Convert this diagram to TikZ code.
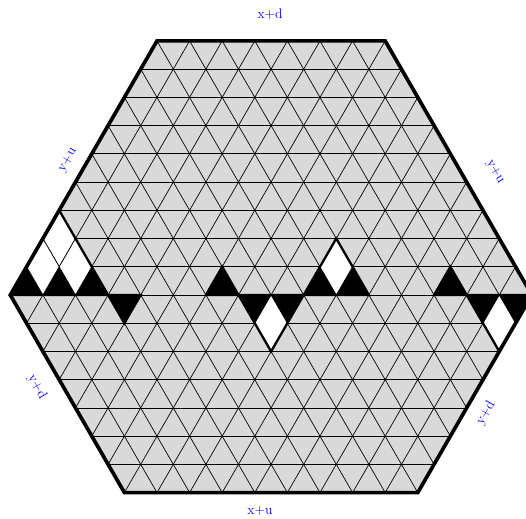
\documentclass[tikz,border=0pt]{standalone}
\definecolor{latgray}{RGB}{217,217,217}
\definecolor{lblblue}{RGB}{0,0,255}
\tikzset{
  hexborder/.style={draw=black, line width=3.2pt, line join=miter},
  latline/.style={draw=black, line width=0.6pt},
  blk/.style={fill=black, draw=black, line width=0.6pt, line join=miter},
  wht/.style={fill=white, draw=black, line width=0.6pt, line join=miter},
  outl/.style={draw=black, line width=2pt, line join=miter},
  lbl/.style={text=lblblue, font=\fontsize{12}{14}\selectfont, inner sep=0pt},
}
\begin{document}
\begin{tikzpicture}[x=1cm,y=0.8660254cm]
\clip (-0.316,-7.934) rectangle (15.82,10.449);
\coordinate (A) at (0,0);
\coordinate (B) at (4.5,9);
\coordinate (C) at (11.5,9);
\coordinate (D) at (16,0);
\coordinate (E) at (12.5,-7);
\coordinate (F) at (3.5,-7);
\fill[latgray] (A)--(B)--(C)--(D)--(E)--(F)--cycle;
\begin{scope}
  \clip (A)--(B)--(C)--(D)--(E)--(F)--cycle;
  \foreach \j in {-7,...,9} \draw[latline] (-1,\j) -- (17,\j);
  \foreach \k in {-10,...,26} {
    \draw[latline] (\k-4,-8) -- (\k+5,10);
    \draw[latline] (\k+4,-8) -- (\k-5,10);
  }
\end{scope}
% left group: side-3 up triangle
\foreach \a in {0,1,2} \draw[blk] (\a,0) -- (\a+1,0) -- (\a+0.5,1) -- cycle;
\draw[wht] (1.5,3) -- (1,2) -- (1.5,1) -- (2,2) -- cycle;
\draw[wht] (1,2) -- (0.5,1) -- (1,0) -- (1.5,1) -- cycle;
\draw[wht] (2,2) -- (1.5,1) -- (2,0) -- (2.5,1) -- cycle;
\draw[outl] (0,0) -- (3,0) -- (1.5,3) -- cycle;
% single down triangle
\draw[blk] (3,0) -- (4,0) -- (3.5,-1) -- cycle;
\draw[outl] (3,0) -- (4,0) -- (3.5,-1) -- cycle;
% single up triangle
\draw[blk] (6,0) -- (7,0) -- (6.5,1) -- cycle;
\draw[outl] (6,0) -- (7,0) -- (6.5,1) -- cycle;
% V shape
\draw[blk] (7,0) -- (8,0) -- (7.5,-1) -- cycle;
\draw[blk] (8,0) -- (9,0) -- (8.5,-1) -- cycle;
\draw[wht] (8,0) -- (7.5,-1) -- (8,-2) -- (8.5,-1) -- cycle;
\draw[outl] (7,0) -- (9,0) -- (8,-2) -- cycle;
% inverted V
\draw[blk] (9,0) -- (10,0) -- (9.5,1) -- cycle;
\draw[blk] (10,0) -- (11,0) -- (10.5,1) -- cycle;
\draw[wht] (10,2) -- (9.5,1) -- (10,0) -- (10.5,1) -- cycle;
\draw[outl] (9,0) -- (11,0) -- (10,2) -- cycle;
% right single up triangle
\draw[blk] (13,0) -- (14,0) -- (13.5,1) -- cycle;
\draw[outl] (13,0) -- (14,0) -- (13.5,1) -- cycle;
% right V
\draw[blk] (14,0) -- (15,0) -- (14.5,-1) -- cycle;
\draw[blk] (15,0) -- (16,0) -- (15.5,-1) -- cycle;
\draw[wht] (15,0) -- (14.5,-1) -- (15,-2) -- (15.5,-1) -- cycle;
\draw[outl] (14,0) -- (16,0) -- (15,-2) -- cycle;
% hexagon border
\draw[hexborder] (A)--(B)--(C)--(D)--(E)--(F)--cycle;
% labels
\node[lbl] (xd) at (7.97,9.954) {x+d};
\node[lbl] (xu) at (7.66,-7.656) {x+u};
\node[lbl, rotate=60] (yul) at (1.77,4.78) {y+u};
\node[lbl, rotate=-60] (yur) at (14.87,4.36) {y+u};
\node[lbl, rotate=-60] (ydl) at (0.82,-3.26) {y+d};
\node[lbl, rotate=60] (ydr) at (14.59,-4.18) {y+d};
\end{tikzpicture}
\end{document}
